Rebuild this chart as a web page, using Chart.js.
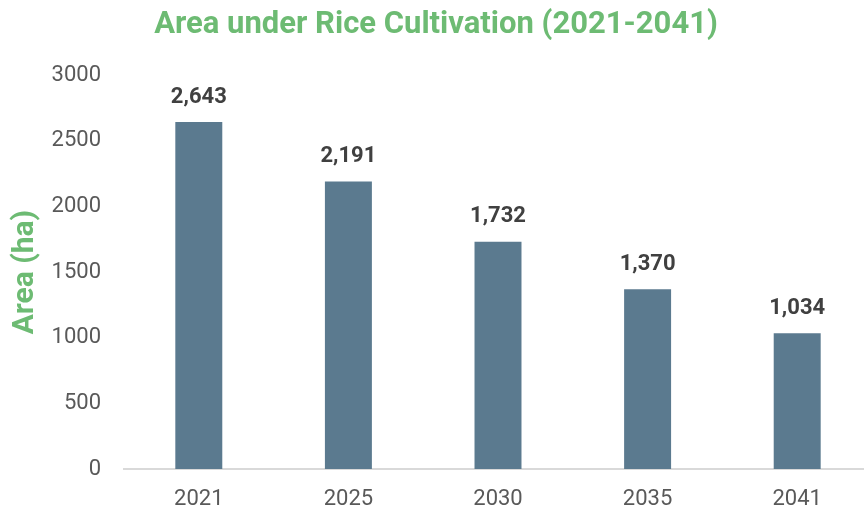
<!DOCTYPE html>
<html>
<head>
<meta charset="utf-8">
<script src="https://cdn.jsdelivr.net/npm/chart.js@4"></script>
<style>
  html, body { margin: 0; padding: 0; background: #fff; overflow: hidden; }
  #wrap { width: 872px; height: 510px; }
</style>
</head>
<body>
<div id="wrap"><canvas id="riceChart"></canvas></div>
<script>
const years = ['2021', '2025', '2030', '2035', '2041'];
const areaHa = [2643, 2191, 1732, 1370, 1034];
const yTicks = [0, 500, 1000, 1500, 2000, 2500, 3000];

const green = '#6dbb73';
const barColor = '#5b7a8f';

// prints the value above each bar, e.g. "2,643"
const valueLabels = {
  id: 'valueLabels',
  afterDatasetsDraw(chart) {
    const ctx = chart.ctx;
    const meta = chart.getDatasetMeta(0);
    ctx.save();
    ctx.font = 'bold 22px Roboto';
    ctx.fillStyle = '#404040';
    ctx.textAlign = 'center';
    ctx.textBaseline = 'middle';
    meta.data.forEach((bar, i) => {
      const v = chart.data.datasets[0].data[i];
      ctx.fillText(v.toLocaleString('en-US'), bar.x, bar.y - 25);
    });
    ctx.restore();
  }
};

new Chart(document.getElementById('riceChart'), {
  type: 'bar',
  data: {
    labels: years,
    datasets: [{
      data: areaHa,
      backgroundColor: barColor,
      barPercentage: 0.314,
      categoryPercentage: 1
    }]
  },
  options: {
    responsive: true,
    maintainAspectRatio: false,
    animation: false,
    layout: { padding: 0 },
    plugins: {
      legend: { display: false },
      tooltip: { enabled: false },
      title: {
        display: true,
        text: 'Area under Rice Cultivation (2021-2041)',
        color: green,
        font: { family: 'Roboto', size: 31, weight: 'bold' },
        padding: { top: 7, bottom: 31 }
      }
    },
    scales: {
      x: {
        grid: { display: false, drawTicks: false },
        border: { display: true, color: '#d9d9d9', width: 2 },
        ticks: {
          color: '#595959',
          font: { family: 'Roboto', size: 22 },
          padding: 17
        },
        afterFit(scale) { scale.height = 41; }
      },
      y: {
        min: 0,
        max: 3000,
        afterBuildTicks(scale) { scale.ticks = yTicks.map(v => ({ value: v })); },
        grid: { display: false, drawTicks: false },
        border: { display: false },
        ticks: {
          color: '#595959',
          font: { family: 'Roboto', size: 22 },
          padding: 23,
          callback: v => String(v)
        },
        title: {
          display: true,
          text: 'Area (ha)',
          color: green,
          font: { family: 'Roboto', size: 30, weight: 'bold' },
          padding: { top: 7, bottom: 0 }
        },
        afterFit(scale) { scale.width = 124; }
      }
    }
  },
  plugins: [valueLabels]
});
</script>
</body>
</html>
